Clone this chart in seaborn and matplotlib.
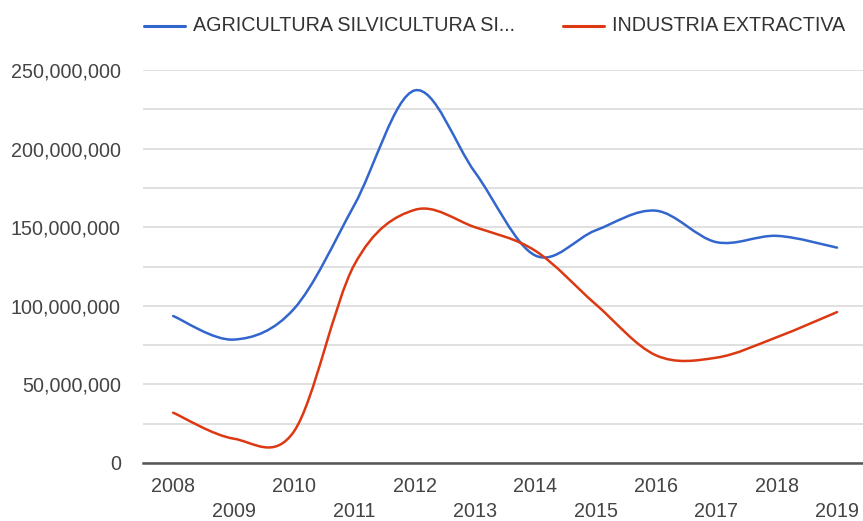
import numpy as np
import pandas as pd
import matplotlib
matplotlib.use("Agg")
import matplotlib.pyplot as plt
from matplotlib.path import Path
from matplotlib.patches import PathPatch
from matplotlib.lines import Line2D
import seaborn as sns

years = [2008, 2009, 2010, 2011, 2012, 2013, 2014, 2015, 2016, 2017, 2018, 2019]
agricultura = [93.5e6, 78.5e6, 98e6, 164e6, 237e6, 185e6, 132e6, 148e6, 160.5e6, 140.5e6, 144.5e6, 137e6]
industria = [32e6, 15.5e6, 20e6, 126e6, 161e6, 150e6, 135e6, 101e6, 68.5e6, 67e6, 80e6, 96e6]
series_names = ["AGRICULTURA SILVICULTURA SI...", "INDUSTRIA EXTRACTIVA"]
colors = ["#3366cc", "#dc3912"]
y_ticks = [0, 50e6, 100e6, 150e6, 200e6, 250e6]

df = pd.DataFrame({
    "year": years * 2,
    "value": agricultura + industria,
    "series": [series_names[0]] * len(years) + [series_names[1]] * len(years),
})

sns.set_theme(style="white")
plt.rcParams["font.family"] = ["Liberation Sans", "DejaVu Sans"]
TXT = "#444444"
FS = 14.2

fig = plt.figure(figsize=(8.63, 5.21), dpi=100)
ax = fig.add_axes([143 / 863, 1 - 463 / 521, 1 - 143 / 863, (463 - 70) / 521])

sns.lineplot(data=df, x="year", y="value", hue="series", palette=colors,
             hue_order=series_names, legend=False, ax=ax, linewidth=1.8)


def smooth_path(x, y, k=1 / 6):
    pts = np.column_stack([x, y])
    n = len(pts)
    verts = [pts[0]]
    codes = [Path.MOVETO]
    for i in range(n - 1):
        p_prev = pts[i - 1] if i > 0 else pts[i]
        p0 = pts[i]
        p1 = pts[i + 1]
        p_next = pts[i + 2] if i + 2 < n else pts[i + 1]
        c1 = p0 + (p1 - p_prev) * k
        c2 = p1 - (p_next - p0) * k
        verts += [c1, c2, p1]
        codes += [Path.CURVE4] * 3
    return Path(verts, codes)


for line in list(ax.lines):
    xd = np.asarray(line.get_xdata(), dtype=float)
    yd = np.asarray(line.get_ydata(), dtype=float)
    patch = PathPatch(smooth_path(xd, yd), facecolor="none",
                      edgecolor=line.get_color(), linewidth=1.8,
                      transform=ax.transData, zorder=3, capstyle="round")
    ax.add_patch(patch)
    line.set_visible(False)

ax.set_xlim(2007.5, 2019.43)
ax.set_ylim(0, 250e6)

ax.set_yticks(y_ticks)
ax.set_yticklabels([f"{int(v):,}" for v in y_ticks])
ax.set_yticks([25e6, 75e6, 125e6, 175e6, 225e6], minor=True)
ax.grid(True, which="both", axis="y", color="#dddddd", linewidth=1.3)
ax.grid(False, axis="x")
ax.set_axisbelow(True)

ax.set_xticks(years)
ax.set_xticklabels([str(y) for y in years])
for i, t in enumerate(ax.xaxis.get_major_ticks()):
    t.set_pad(10 if i % 2 == 0 else 28)

ax.tick_params(axis="x", length=0, labelsize=FS, labelcolor=TXT)
ax.tick_params(axis="y", which="both", length=0, labelsize=FS, labelcolor=TXT, pad=16)

for s in ["top", "right", "left"]:
    ax.spines[s].set_visible(False)
ax.spines["bottom"].set_color("#555555")
ax.spines["bottom"].set_linewidth(1.8)
ax.spines["bottom"].set_zorder(4)

ax.set_xlabel("")
ax.set_ylabel("")

# legend
W, H = 863, 521
ly = 1 - 25.5 / H
legend_items = [(144, 185, 193), (563, 604, 612)]
for (x0, x1, xt), name, c in zip(legend_items, series_names, colors):
    fig.add_artist(Line2D([x0 / W, x1 / W], [ly, ly], color=c, linewidth=2.2,
                          transform=fig.transFigure))
    fig.text(xt / W, ly, name, ha="left", va="center", fontsize=FS, color="#333333")

fig.savefig("out.png", dpi=100)
